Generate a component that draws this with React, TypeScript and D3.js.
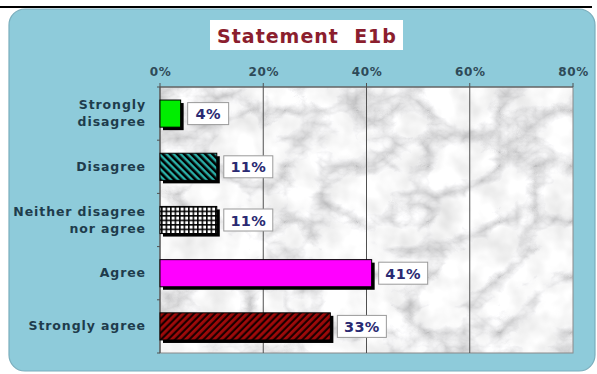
import React from "react";
import * as d3 from "d3";

const categories = [
  "Strongly disagree",
  "Disagree",
  "Neither disagree nor agree",
  "Agree",
  "Strongly agree",
];
const categoryLines = [
  ["Strongly", "disagree"],
  ["Disagree"],
  ["Neither disagree", "nor agree"],
  ["Agree"],
  ["Strongly agree"],
];
const values = [4, 11, 11, 41, 33];
const tickValues = [0, 20, 40, 60, 80];
const fills = [
  "#00ee00",
  "url(#pat-teal)",
  "url(#pat-dots)",
  "#ff00ff",
  "url(#pat-red)",
];

const W = 597;
const H = 374;
const plot = { left: 160, right: 573, top: 87, bottom: 353 };

export default function App() {
  const x = d3.scaleLinear().domain([0, 80]).range([plot.left, plot.right]);
  const y = d3
    .scaleBand<string>()
    .domain(categories)
    .range([plot.top, plot.bottom])
    .paddingInner(0.49)
    .paddingOuter(0.245);
  const bh = y.bandwidth();
  const step = y.step();
  const font = "'DejaVu Sans', Verdana, sans-serif";

  return (
    <svg
      width={W}
      height={H}
      style={{ position: "absolute", left: 0, top: 0, background: "#ffffff" }}
    >
      <defs>
        {/* marble: thin turbulence veins over a softly mottled light grey */}
        <filter id="marble" x="0" y="0" width="100%" height="100%">
          <feTurbulence
            type="turbulence"
            baseFrequency="0.014 0.018"
            numOctaves={5}
            seed={11}
            result="t"
          />
          <feColorMatrix
            in="t"
            type="matrix"
            values="1.3 0 0 0 0.58  1.3 0 0 0 0.58  1.3 0 0 0 0.59  0 0 0 0 1"
            result="veins"
          />
          <feTurbulence
            type="fractalNoise"
            baseFrequency="0.035"
            numOctaves={3}
            seed={3}
            result="n"
          />
          <feColorMatrix
            in="n"
            type="matrix"
            values="0.4 0 0 0 0.74  0.4 0 0 0 0.74  0.4 0 0 0 0.74  0 0 0 0 1"
            result="grain"
          />
          <feBlend in="veins" in2="grain" mode="multiply" />
        </filter>
        <clipPath id="plotClip">
          <rect
            x={plot.left}
            y={plot.top}
            width={plot.right - plot.left}
            height={plot.bottom - plot.top}
          />
        </clipPath>
        <pattern id="pat-teal" width={5} height={5} patternUnits="userSpaceOnUse" patternTransform="rotate(45)">
          <rect width={5} height={5} fill="#000" />
          <rect width={5} height={2.4} fill="#2bb0a8" />
        </pattern>
        <pattern id="pat-dots" width={4.5} height={4.5} patternUnits="userSpaceOnUse">
          <rect width={4.5} height={4.5} fill="#000" />
          <rect x={0.6} y={0.6} width={3} height={3} fill="#fff" />
        </pattern>
        <pattern id="pat-red" width={5} height={5} patternUnits="userSpaceOnUse" patternTransform="rotate(-45)">
          <rect width={5} height={5} fill="#1a0000" />
          <rect width={5} height={2.8} fill="#a00a0a" />
        </pattern>
      </defs>

      {/* top rule */}
      <line x1={0} x2={592} y1={7} y2={7} stroke="#000" strokeWidth={2} />

      {/* panel */}
      <rect x={9} y={9} width={586} height={362} rx={16} fill="#8ecbda" stroke="#7aaebd" strokeWidth={1.2} />

      {/* title */}
      <rect x={210} y={20} width={193} height={30} fill="#ffffff" />
      <text
        x={307}
        y={43}
        textAnchor="middle"
        fontFamily={font}
        fontWeight="bold"
        fontSize={19}
        letterSpacing={1}
        fill="#8b1e2e"
        style={{ whiteSpace: "pre" }}
      >
        {"Statement  E1b"}
      </text>

      {/* plot background */}
      <g clipPath="url(#plotClip)">
        <rect
          x={plot.left}
          y={plot.top}
          width={plot.right - plot.left}
          height={plot.bottom - plot.top}
          filter="url(#marble)"
        />
      </g>
      <rect
        x={plot.left}
        y={plot.top}
        width={plot.right - plot.left}
        height={plot.bottom - plot.top}
        fill="none"
        stroke="#8a8a8a"
        strokeWidth={1}
      />

      {/* gridlines */}
      {tickValues.slice(1, -1).map((t) => (
        <line key={t} x1={x(t)} x2={x(t)} y1={plot.top} y2={plot.bottom} stroke="#505050" strokeWidth={1} />
      ))}

      {/* top axis */}
      <line x1={plot.left} x2={plot.right} y1={plot.top} y2={plot.top} stroke="#505050" strokeWidth={1.2} />
      {tickValues.map((t) => (
        <g key={t}>
          <line x1={x(t)} x2={x(t)} y1={plot.top - 4} y2={plot.top} stroke="#505050" />
          <text
            x={x(t) + 0.5}
            y={plot.top - 11}
            textAnchor="middle"
            fontFamily={font}
            fontWeight="bold"
            fontSize={12}
            letterSpacing={0.6}
            fill="#2e4a58"
          >
            {t}%
          </text>
        </g>
      ))}

      {/* left axis */}
      <line x1={plot.left} x2={plot.left} y1={plot.top} y2={plot.bottom} stroke="#505050" strokeWidth={1.2} />
      {d3.range(categories.length + 1).map((i) => (
        <line
          key={i}
          x1={plot.left - 3}
          x2={plot.left}
          y1={plot.top + i * step}
          y2={plot.top + i * step}
          stroke="#505050"
        />
      ))}

      {/* category labels */}
      {categories.map((c, i) => {
        const lines = categoryLines[i];
        const cy = (y(c) as number) + bh / 2;
        const lh = 17;
        return (
          <text
            key={c}
            textAnchor="end"
            fontFamily={font}
            fontWeight="bold"
            fontSize={12.5}
            letterSpacing={0.9}
            fill="#1e3c4c"
          >
            {lines.map((l, j) => (
              <tspan key={j} x={146} y={cy + 4 + (j - (lines.length - 1) / 2) * lh}>
                {l}
              </tspan>
            ))}
          </text>
        );
      })}

      {/* bars */}
      {categories.map((c, i) => {
        const y0 = y(c) as number;
        const w = x(values[i]) - x(0);
        return (
          <g key={c}>
            <rect x={x(0) + 3} y={y0 + 3} width={w} height={bh} fill="#000" />
            <rect x={x(0)} y={y0} width={w} height={bh} fill={fills[i]} stroke="#000" strokeWidth={1} />
          </g>
        );
      })}

      {/* value labels */}
      {categories.map((c, i) => {
        const cy = (y(c) as number) + bh / 2;
        const label = `${values[i]}%`;
        const bw = label.length === 2 ? 41 : 49;
        const bx = x(values[i]) + 7;
        return (
          <g key={c}>
            <rect x={bx} y={cy - 11} width={bw} height={22} fill="#ffffff" stroke="#9a9a9a" strokeWidth={1} />
            <text
              x={bx + bw / 2}
              y={cy + 5.5}
              textAnchor="middle"
              fontFamily={font}
              fontWeight="bold"
              fontSize={14.5}
              letterSpacing={0.3}
              fill="#2a2a72"
            >
              {label}
            </text>
          </g>
        );
      })}
    </svg>
  );
}
